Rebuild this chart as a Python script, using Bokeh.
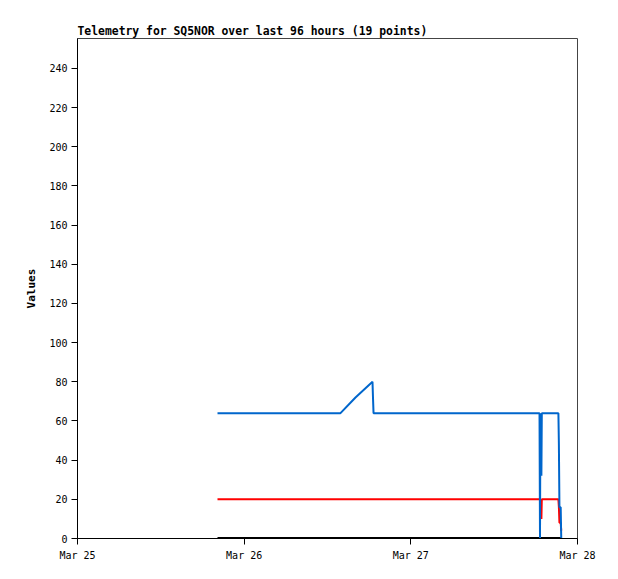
from datetime import datetime, timedelta
from bokeh.plotting import figure
from bokeh.models import Range1d, FixedTicker
from bokeh.embed import file_html
from bokeh.resources import INLINE

# hours since Mar 25 00:00
hours = [20.16, 28.0, 37.87, 40.03, 42.48, 42.55, 42.63, 55.0, 66.53, 66.60,
         66.66, 66.80, 66.86, 69.25, 69.32, 69.40, 69.58, 69.66, 69.72]
blue = [64, 64, 64, 72, 80, 72, 64, 64, 64, 0, 64, 32, 64, 64, 48, 16, 16, 0, 0]
red = [20, 20, 20, 20, 20, 20, 20, 20, 20, 20, 20, 10, 20, 20, 16, 8, 8, 4, 4]
black = [0] * 19
y_ticks = [0, 20, 40, 60, 80, 100, 120, 140, 160, 180, 200, 220, 240]
day_labels = ["Mar 25", "Mar 26", "Mar 27", "Mar 28"]

base = datetime(2024, 3, 25)
times = [base + timedelta(hours=h) for h in hours]
day_ms = [(base + timedelta(days=i) - datetime(1970, 1, 1)).total_seconds() * 1000 for i in range(4)]

p = figure(width=610, height=571, output_backend="svg", toolbar_location=None,
           x_axis_type="datetime",
           x_range=Range1d(base, base + timedelta(days=3)),
           y_range=Range1d(0, 255.3),
           min_border_left=77, min_border_right=33, min_border_top=38, min_border_bottom=33,
           title="Telemetry for SQ5NOR over last 96 hours (19 points)")

p.line(times, black, color="black", line_width=3)
p.line(times, red, color="#ff0000", line_width=2)
p.line(times, blue, color="#0066cc", line_width=2)

p.title.text_font = "DejaVu Sans Mono"
p.title.text_font_size = "11.4px"
p.title.text_font_style = "bold"
p.title.text_color = "black"
p.title.offset = 0
p.title.standoff = 2

p.grid.visible = False
p.outline_line_color = "#444444"
p.outline_line_width = 1
p.background_fill_color = "white"
p.border_fill_color = "white"

for ax in (p.xaxis[0], p.yaxis[0]):
    ax.axis_line_color = "black"
    ax.major_tick_line_color = "black"
    ax.major_tick_out = 6
    ax.major_tick_in = 0
    ax.minor_tick_line_color = None
    ax.major_label_text_font = "DejaVu Sans Mono"
    ax.major_label_text_font_size = "10px"
    ax.major_label_text_color = "black"

p.yaxis[0].ticker = FixedTicker(ticks=y_ticks)
p.yaxis[0].major_label_standoff = 4
p.yaxis[0].axis_label = "Values"
p.yaxis[0].axis_label_text_font = "DejaVu Sans Mono"
p.yaxis[0].axis_label_text_font_size = "11px"
p.yaxis[0].axis_label_text_font_style = "bold"
p.yaxis[0].axis_label_text_color = "black"
p.yaxis[0].axis_label_standoff = 8

p.xaxis[0].ticker = FixedTicker(ticks=day_ms)
p.xaxis[0].major_label_overrides = {day_ms[i]: day_labels[i] for i in range(4)}
p.xaxis[0].major_label_standoff = 5

open("out.html", "w").write(file_html(p, INLINE))
